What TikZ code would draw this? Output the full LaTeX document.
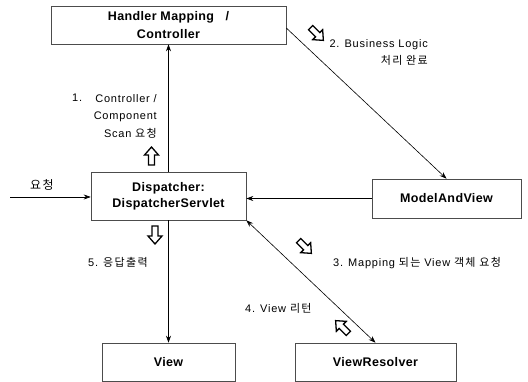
\documentclass[tikz,border=0pt]{standalone}
\usepackage{fontspec}
\setmainfont{Liberation Sans}
\newfontfamily\lab[LetterSpace=7]{Liberation Sans}
\newfontfamily\kr[LetterSpace=12]{Noto Sans CJK KR}
\newfontfamily\bx[LetterSpace=3]{Liberation Sans}
\usetikzlibrary{arrows.meta}
\tikzset{
  box/.style={draw=black!70, line width=0.6pt, fill=white, inner sep=0pt,
    font=\bx\bfseries\fontsize{12.5}{16}\selectfont, align=center},
  conn/.style={line width=0.6pt, -{Stealth[length=7pt,width=5pt]}},
  conn2/.style={line width=0.6pt, {Stealth[length=7pt,width=5pt]}-{Stealth[length=7pt,width=5pt]}},
  lbl/.style={inner sep=0pt, font=\lab\fontsize{11}{17.5}\selectfont},
  pics/blockarrow/.style={code={
    \draw[line width=1.3pt, fill=white, line join=miter]
      (-9,-3) -- (1,-3) -- (1,-7) -- (9,0) -- (1,7) -- (1,3) -- (-9,3) -- cycle;}}
}
\begin{document}
\begin{tikzpicture}[x=1pt, y=-1pt]
\useasboundingbox (0,0) rectangle (528,382);
% boxes
\node[box, minimum width=235pt, minimum height=38pt,
  font=\bx\bfseries\fontsize{12.5}{18}\selectfont] (H) at (168.5,25) {Handler Mapping\ \ \ /\\Controller};
\node[box, minimum width=155pt, minimum height=48pt] (D) at (168.5,196) {Dispatcher:\\DispatcherServlet};
\node[box, minimum width=149pt, minimum height=39pt] (M) at (446.5,198.5) {ModelAndView};
\node[box, minimum width=133pt, minimum height=38pt] (V) at (168.5,362) {View};
\node[box, minimum width=161pt, minimum height=38pt] (R) at (375.5,362) {ViewResolver};
% connectors
\draw[conn] (D) -- (H);
\draw[conn] (D) -- (V);
\draw[conn] ([yshift=-3pt]H.east) -- (M.north);
\draw[conn] (M.west) -- (M.west -| D.east);
\coordinate (in) at (10,197);
\draw[conn] (in) -- (in -| D.west);
\draw[conn2] (D.south east) -- (R.north);
% labels
\node[lbl, font=\kr\fontsize{12}{14}\selectfont] (req) at (42,185) {요청};
\node[lbl, anchor=west] (n1) at (72,98) {1.};
\node[lbl, anchor=north east, align=right] (t1) at (157,94) {Controller /\\Component\\Scan {\kr 요청}};
\node[lbl, anchor=north east, align=right] (t2) at (428,39) {2. Business Logic\\{\kr 처리 완료}};
\node[lbl, anchor=west] (t3) at (333,263) {3. Mapping {\kr 되는} View {\kr 객체 요청}};
\node[lbl, anchor=west] (t4) at (245,308) {4. View {\kr 리턴}};
\node[lbl, anchor=west] (t5) at (88,262) {5. {\kr 응답출력}};
% block arrows
\pic[rotate=-45] at (317,34) {blockarrow};
\pic[rotate=90] at (151.5,156) {blockarrow};
\pic[rotate=-90] at (155,235) {blockarrow};
\pic[rotate=-45] at (305,247) {blockarrow};
\pic[rotate=135] at (342,327) {blockarrow};
\end{tikzpicture}
\end{document}
